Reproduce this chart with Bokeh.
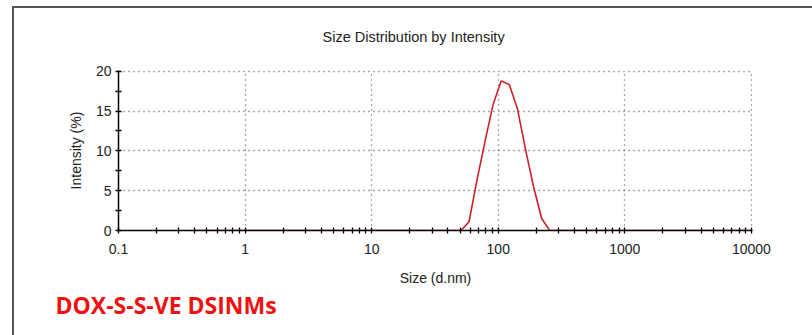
from bokeh.plotting import figure
from bokeh.models import (FixedTicker, CustomJSTickFormatter, Title, Range1d,
                          InlineStyleSheet)
from bokeh.embed import file_html
from bokeh.resources import INLINE

# ---- data ----
size_nm = [0.4, 50.75, 58.77, 68.06, 78.82, 91.28, 105.7, 122.4, 141.8,
           164.2, 190.1, 220.2, 255.0, 10000]
intensity = [0, 0, 1.1, 6.4, 11.3, 15.9, 18.8, 18.3, 15.3, 10.2, 5.5, 1.5, 0, 0]

x_ticks = [0.1, 1, 10, 100, 1000, 10000]
x_tick_labels = ["0.1", "1", "10", "100", "1000", "10000"]
y_ticks = [0, 5, 10, 15, 20]
y_minor = [2.5, 7.5, 12.5, 17.5]

title_text = "Size Distribution by Intensity"
x_label = "Size (d.nm)"
y_label = "Intensity (%)"
sample_text = "DOX-S-S-VE DSINMs"

FONT = "Liberation Sans"
GRID = "#555555"

# frame position on the canvas (pixels)
FL, FR, FT, FB = 118, 752, 70, 230

frame_css = InlineStyleSheet(css="""
:host::after {
  content: '';
  position: absolute;
  left: 12px; top: 6px; right: -20px; bottom: -20px;
  border-left: 2px solid #555555;
  border-top: 2px solid #555555;
  pointer-events: none;
}
""")

p = figure(width=812, height=335, output_backend="svg", toolbar_location=None,
           x_axis_type="log", x_range=Range1d(0.1, 10200), y_range=Range1d(0, 20.1),
           min_border_left=FL, min_border_right=812 - FR, min_border_top=FT,
           min_border_bottom=335 - FB, background_fill_color="white",
           border_fill_color="white", outline_line_color=None,
           stylesheets=[frame_css])

# title in the top panel
p.title.text = title_text
p.title.align = "left"
p.title.offset = 204
p.title.standoff = 52
p.title.text_font = FONT
p.title.text_font_size = "14.5px"
p.title.text_font_style = "normal"
p.title.text_color = "#222222"

minor_x = [m * d for d in [0.1, 1, 10, 100, 1000] for m in range(2, 10)]

# axes
xa = p.xaxis[0]
xa.ticker = FixedTicker(ticks=x_ticks, minor_ticks=minor_x)
xa.formatter = CustomJSTickFormatter(
    args=dict(vals=x_ticks, labs=x_tick_labels),
    code="const i = vals.findIndex(v => Math.abs(Math.log10(v) - Math.log10(tick)) < 1e-6); return i >= 0 ? labs[i] : '';")
ya = p.yaxis[0]
ya.ticker = FixedTicker(ticks=y_ticks, minor_ticks=y_minor)

for ax in (xa, ya):
    ax.axis_line_color = "black"
    ax.axis_line_width = 1.5
    ax.major_tick_line_color = "black"
    ax.minor_tick_line_color = "black"
    ax.major_tick_in = 3
    ax.major_tick_out = 3
    ax.minor_tick_in = 3
    ax.minor_tick_out = 3
    ax.major_tick_line_width = 1.3
    ax.minor_tick_line_width = 1.3
    ax.major_label_text_font = FONT
    ax.major_label_text_font_size = "14px"
    ax.major_label_text_color = "#222222"
    ax.axis_label_text_font = FONT
    ax.axis_label_text_font_size = "14px"
    ax.axis_label_text_font_style = "normal"
    ax.axis_label_text_color = "#222222"

xa.axis_label = x_label
xa.major_label_standoff = 10
xa.axis_label_standoff = 13
ya.axis_label = y_label
ya.major_label_standoff = 4
ya.axis_label_standoff = 9

# grid
p.xgrid.ticker = FixedTicker(ticks=x_ticks[1:])
p.ygrid.ticker = FixedTicker(ticks=y_ticks[1:])
for g in (p.xgrid, p.ygrid):
    g.grid_line_color = GRID
    g.grid_line_dash = "1 4"
    g.grid_line_width = 1.3

# curve
p.line(size_nm, intensity, line_color="#D0202A", line_width=1.6)

# sample name below the axis
p.add_layout(Title(text=sample_text, align="left", offset=55 - FL, standoff=-3,
                   text_font="Open Sans", text_font_size="23px",
                   text_font_style="bold", text_color="#EE1111"), "below")

open("out.html", "w").write(file_html(p, INLINE))
